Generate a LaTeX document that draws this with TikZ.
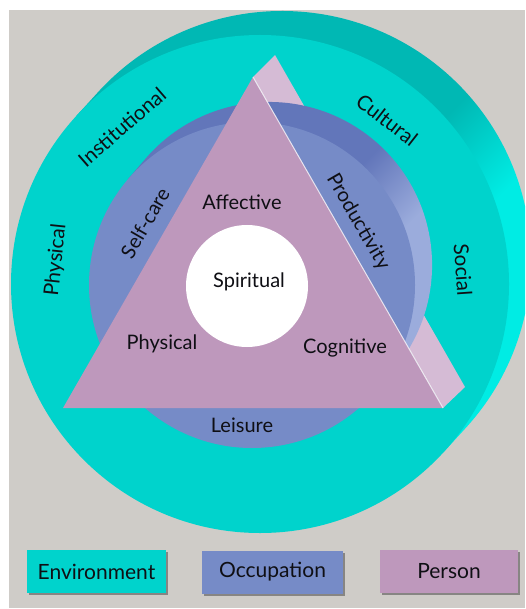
\documentclass[tikz,border=0pt]{standalone}
\usepackage{fontspec}
\setmainfont{Lato}
\usetikzlibrary{shadows}
\definecolor{bgpanel}{RGB}{207,204,200}
\definecolor{envfront}{RGB}{0,211,204}
\definecolor{envdark}{RGB}{0,184,180}
\definecolor{envbright}{RGB}{0,236,228}
\definecolor{occfront}{RGB}{118,139,199}
\definecolor{occdark}{RGB}{98,118,186}
\definecolor{occlight}{RGB}{155,172,220}
\definecolor{perfront}{RGB}{190,152,188}
\definecolor{perside}{RGB}{213,187,213}
\definecolor{txt}{RGB}{15,15,20}
\pgfdeclarehorizontalshading{envside}{100bp}{color(0bp)=(envdark); color(52bp)=(envdark); color(62bp)=(envbright); color(100bp)=(envbright)}
\pgfdeclarehorizontalshading{occside}{100bp}{color(0bp)=(occdark); color(50bp)=(occdark); color(62bp)=(occlight); color(100bp)=(occlight)}
\begin{document}
\begin{tikzpicture}[x=1pt,y=-1pt,
  lbl/.style={inner sep=0pt, text=txt, font=\fontsize{20}{24}\selectfont},
  envlbl/.style={inner sep=0pt, text=txt, font=\fontsize{20.5}{24}\selectfont},
  legbox/.style={draw=none, minimum height=43pt, inner sep=0pt, text=txt,
    font=\fontsize{21}{25}\selectfont,
    drop shadow={shadow xshift=2pt, shadow yshift=-2pt, opacity=.55, fill=black!70}}]
\useasboundingbox (0,0) rectangle (525,609);
\fill[white] (0,0) rectangle (525,609);
\fill[bgpanel] (9,10) rectangle (525,608);
\begin{scope}
  \clip (9,10) rectangle (525,608);
  % environment cylinder side
  \shade[shading=envside, shading angle=-45]
    (443.5,452.2) -- (465.5,428.2) arc[start angle=-42.5, end angle=137.5, radius=249pt]
    -- (76.5,115.8) -- cycle;
  % environment front face
  \fill[envfront] (260,284) circle (249pt);
\end{scope}
% person prism side face
\fill[perside] (253,77) -- (275,55) -- (465,387) -- (443,408) -- cycle;
% occupation cylinder side
\shade[shading=occside, shading angle=-45]
  (376.2,390.6) -- (393.2,370.6) arc[start angle=-40.4, end angle=139.6, radius=163pt]
  -- (127.8,179.4) -- cycle;
% occupation front face
\fill[occfront] (252,285) circle (163pt);
% person front face
\fill[perfront] (253,77) -- (443,408) -- (63,408) -- cycle;
\draw[white, opacity=.75, line width=1pt] (253,77) -- (443,408);
% spiritual core
\fill[white] (247,286) circle (61pt);

% labels: person
\node[lbl, anchor=base] (spiritual) at (249,287) {Spiritual};
\node[lbl, anchor=base] (affective) at (242,210) {Affective};
\node[lbl, anchor=base] (physicalp) at (162,349) {Physical};
\node[lbl, anchor=base] (cognitive) at (345,353) {Cognitive};
% labels: occupation
\node[lbl, anchor=base] (leisure) at (242,432) {Leisure};
\node[lbl, rotate=60] (selfcare) at (145,223) {Self-care};
\node[lbl, rotate=-60] (productivity) at (358,222) {Productivity};
% labels: environment
\node[envlbl, rotate=41] (institutional) at (122,127) {Institutional};
\node[envlbl, rotate=-38] (cultural) at (387,120) {Cultural};
\node[envlbl, rotate=84] (physicale) at (56,260) {Physical};
\node[envlbl, rotate=-86] (social) at (463,270) {Social};

% legend
\node[legbox, fill=envfront, minimum width=139pt] (legenv) at (96.5,571.5) {Environment};
\node[legbox, fill=occfront, minimum width=141pt] (legocc) at (272.5,572) {Occupation};
\node[legbox, fill=perfront, minimum width=138pt] (legper) at (449,571.5) {Person};
\end{tikzpicture}
\end{document}
